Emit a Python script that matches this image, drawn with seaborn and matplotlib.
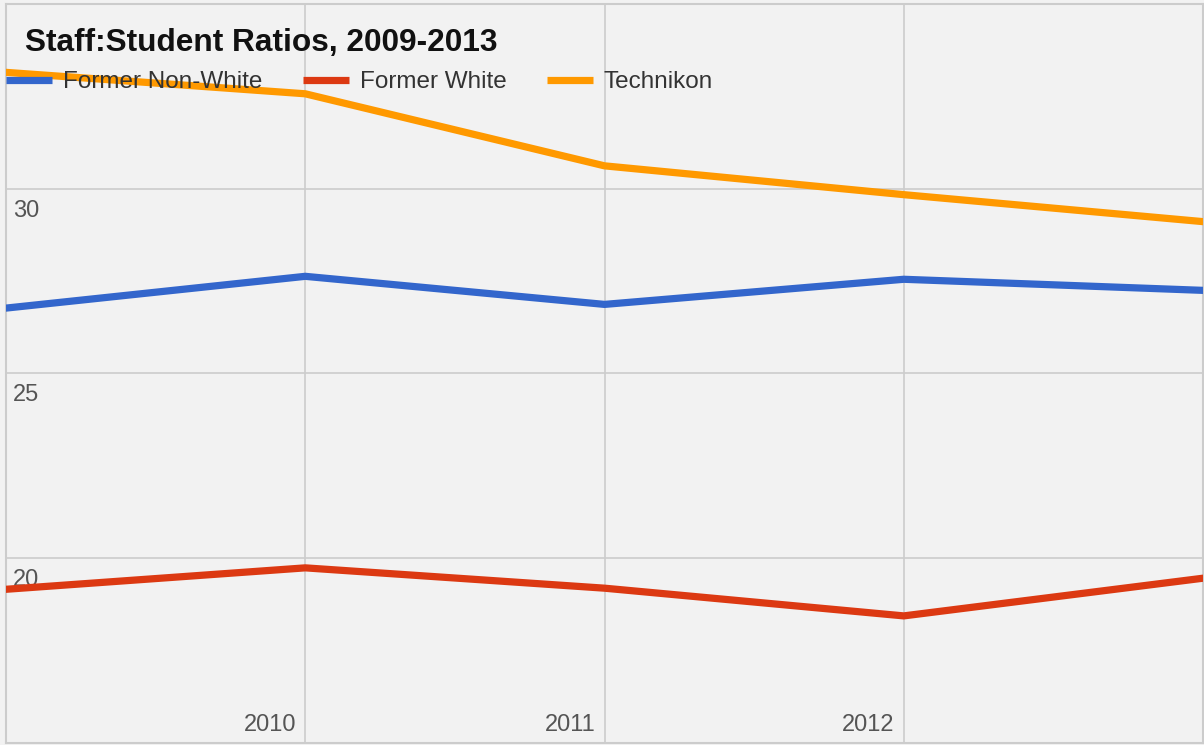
import numpy as np
import pandas as pd
import matplotlib
matplotlib.use('Agg')
import matplotlib.pyplot as plt
import seaborn as sns

years = [2009, 2010, 2011, 2012, 2013]
former_non_white = [26.77, 27.63, 26.87, 27.55, 27.25]
former_white = [19.16, 19.74, 19.19, 18.44, 19.46]
technikon = [33.15, 32.57, 30.62, 29.84, 29.11]
series_names = ['Former Non-White', 'Former White', 'Technikon']
x_ticks = [2010, 2011, 2012]
y_ticks = [20, 25, 30]
title = 'Staff:Student Ratios, 2009-2013'

df = pd.DataFrame({
    'Year': years * 3,
    'Ratio': former_non_white + former_white + technikon,
    'Group': [s for s in series_names for _ in years],
})

sns.set_style('white')
plt.rcParams['font.family'] = ['Liberation Sans', 'DejaVu Sans']

bg = '#f2f2f2'
fig = plt.figure(figsize=(12.04, 7.45), dpi=100, facecolor=bg)
ax = fig.add_axes([6 / 1204, 2 / 745, 1197 / 1204, 739 / 745])
ax.set_facecolor(bg)

palette = {'Former Non-White': '#3366cc', 'Former White': '#dc3912', 'Technikon': '#ff9900'}
sns.lineplot(data=df, x='Year', y='Ratio', hue='Group', palette=palette,
             linewidth=5.2, ax=ax, legend=False, zorder=3)

ax.set_xlim(2009, 2013)
ax.set_ylim(15, 35)
ax.set_xticks(x_ticks)
ax.set_yticks(y_ticks)
ax.grid(True, color='#cccccc', linewidth=1.2, zorder=0)
ax.tick_params(length=0, labelbottom=False, labelleft=False)
ax.set_xlabel('')
ax.set_ylabel('')
for s in ax.spines.values():
    s.set_color('#cccccc')
    s.set_linewidth(1.5)

# tick labels drawn inside the plot area
ytrans = ax.get_yaxis_transform()
for v in y_ticks:
    ax.annotate(str(v), xy=(0, v), xycoords=ytrans, xytext=(7, -11),
                textcoords='offset pixels', ha='left', va='top',
                fontsize=17, color='#555555', zorder=2)
xtrans = ax.get_xaxis_transform()
for v in x_ticks:
    ax.annotate(str(v), xy=(v, 0), xycoords=xtrans, xytext=(-9, 7),
                textcoords='offset pixels', ha='right', va='bottom',
                fontsize=17, color='#555555')

ax.text(0.0159, 0.947, title, transform=ax.transAxes, fontsize=22.8,
        fontweight='bold', color='#111111', ha='left', va='center')

handles = [plt.Line2D([], [], color=palette[s], linewidth=5.2, solid_capstyle='butt')
           for s in series_names]
leg = ax.legend(handles, series_names, loc='center left', bbox_to_anchor=(0, 0.894),
                ncol=3, frameon=False, fontsize=17.5, handlelength=1.9,
                handletextpad=0.45, columnspacing=1.65, borderpad=0, borderaxespad=0)
for t in leg.get_texts():
    t.set_color('#333333')

fig.savefig('out.png', dpi=100, facecolor=bg)
